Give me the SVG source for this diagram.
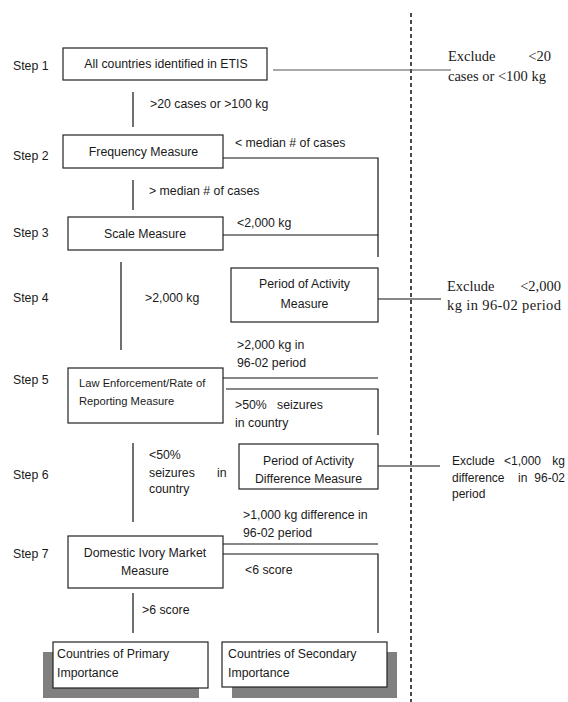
<svg xmlns="http://www.w3.org/2000/svg" width="568" height="702" viewBox="0 0 568 702">
<style>
text{font-family:"Liberation Sans",Arial,sans-serif;font-size:12.3px;fill:#1a1a1a}
.c{text-anchor:middle}
.e{text-anchor:end}
.sm{font-size:11.2px}
.r{font-size:12px}
.sf{font-family:"Liberation Serif","Times New Roman",serif;font-size:14.5px}
.box{fill:#fff;stroke:#222;stroke-width:1.2}
.sh{fill:#808080}
.ln{stroke:#111;stroke-width:1.2;fill:none}
.dash{stroke:#111;stroke-width:1.5;stroke-dasharray:4 3;fill:none}
</style>
<rect width="568" height="702" fill="#fff"/>
<g id="steps">
<text x="13" y="70">Step 1</text>
<text x="13" y="160">Step 2</text>
<text x="13" y="237">Step 3</text>
<text x="13" y="302">Step 4</text>
<text x="13" y="384">Step 5</text>
<text x="13" y="479">Step 6</text>
<text x="13" y="558">Step 7</text>
</g>
<g id="connectors">
<line class="dash" x1="411" y1="13" x2="411" y2="702"/>
<line class="ln" x1="273" y1="70" x2="451" y2="70" style="stroke:#555"/>
<line class="ln" x1="133" y1="92" x2="133" y2="127"/>
<polyline class="ln" points="223,158 378,158 378,257"/>
<line class="ln" x1="133" y1="180" x2="133" y2="210"/>
<line class="ln" x1="223" y1="235" x2="378" y2="235"/>
<line class="ln" x1="121" y1="262" x2="121" y2="350"/>
<line class="ln" x1="378" y1="299" x2="441" y2="299"/>
<line class="ln" x1="223" y1="378" x2="378" y2="378"/>
<polyline class="ln" points="226,389 378,389 378,435"/>
<line class="ln" x1="133" y1="443" x2="133" y2="522"/>
<line class="ln" x1="378" y1="466" x2="440" y2="466"/>
<line class="ln" x1="223" y1="544" x2="378" y2="544"/>
<polyline class="ln" points="223,554 378,554 378,633"/>
<line class="ln" x1="133" y1="593" x2="133" y2="633"/>
</g>
<g id="labels">
<text x="150" y="108">&gt;20 cases or &gt;100 kg</text>
<text x="235" y="147">&lt; median # of cases</text>
<text x="149" y="195">&gt; median # of cases</text>
<text x="237" y="227">&lt;2,000 kg</text>
<text x="145" y="302">&gt;2,000 kg</text>
<text x="237" y="349">&gt;2,000 kg in</text>
<text x="237" y="367">96-02 period</text>
<text x="235" y="409">&gt;50%</text>
<text x="277" y="409">seizures</text>
<text x="235" y="427">in country</text>
<text x="149" y="459">&lt;50%</text>
<text x="149" y="477">seizures</text>
<text x="217" y="477">in</text>
<text x="149" y="493">country</text>
<text x="243" y="519">&gt;1,000 kg difference in</text>
<text x="243" y="537">96-02 period</text>
<text x="245" y="574">&lt;6 score</text>
<text x="142" y="614">&gt;6 score</text>
</g>
<g id="exclude1">
<text class="sf" x="448" y="61">Exclude</text>
<text class="sf e" x="551" y="61">&lt;20</text>
<text class="sf" x="448" y="81">cases or &lt;100 kg</text>
</g>
<g id="exclude2">
<text class="sf" x="447" y="291">Exclude</text>
<text class="sf e" x="561" y="291">&lt;2,000</text>
<text class="sf" x="447" y="310" textLength="114">kg in 96-02 period</text>
</g>
<g id="exclude3">
<text class="r" x="452" y="465">Exclude</text>
<text class="r" x="504" y="465">&lt;1,000</text>
<text class="r e" x="565" y="465">kg</text>
<text class="r" x="452" y="482">difference</text>
<text class="r" x="518" y="482">in</text>
<text class="r e" x="565" y="482">96-02</text>
<text class="r" x="452" y="498">period</text>
</g>
<g id="n1">
<rect class="box" x="63" y="48" width="204" height="32"/>
<text class="c" x="166" y="68">All countries identified in ETIS</text>
</g>
<g id="n2">
<rect class="box" x="63" y="135" width="160" height="33"/>
<text class="c" x="143.5" y="156">Frequency Measure</text>
</g>
<g id="n3">
<rect class="box" x="68" y="217" width="155" height="33"/>
<text class="c" x="145" y="238">Scale Measure</text>
</g>
<g id="n4">
<rect class="box" x="231" y="268" width="147" height="54"/>
<text class="c" x="304.5" y="288">Period of Activity</text>
<text class="c" x="304.5" y="308">Measure</text>
</g>
<g id="n5">
<rect class="box" x="68" y="368" width="155" height="55"/>
<text class="sm" x="79" y="387">Law Enforcement/Rate of</text>
<text class="sm" x="79" y="405">Reporting Measure</text>
</g>
<g id="n6">
<rect class="box" x="239" y="444" width="139" height="45"/>
<text class="c" x="308.5" y="465">Period of Activity</text>
<text class="c" x="308.5" y="483">Difference Measure</text>
</g>
<g id="n7">
<rect class="box" x="68" y="536" width="155" height="52"/>
<text class="c" x="145" y="557">Domestic Ivory Market</text>
<text class="c" x="145" y="575">Measure</text>
</g>
<g id="n8">
<rect class="sh" x="43" y="652" width="156" height="46"/>
<rect class="box" x="53" y="642" width="155" height="46"/>
<text x="57" y="658">Countries of Primary</text>
<text x="57" y="677">Importance</text>
</g>
<g id="n9">
<rect class="sh" x="232" y="652" width="165" height="46"/>
<rect class="box" x="222" y="642" width="165" height="45"/>
<text x="228" y="658">Countries of Secondary</text>
<text x="228" y="677">Importance</text>
</g>
</svg>
